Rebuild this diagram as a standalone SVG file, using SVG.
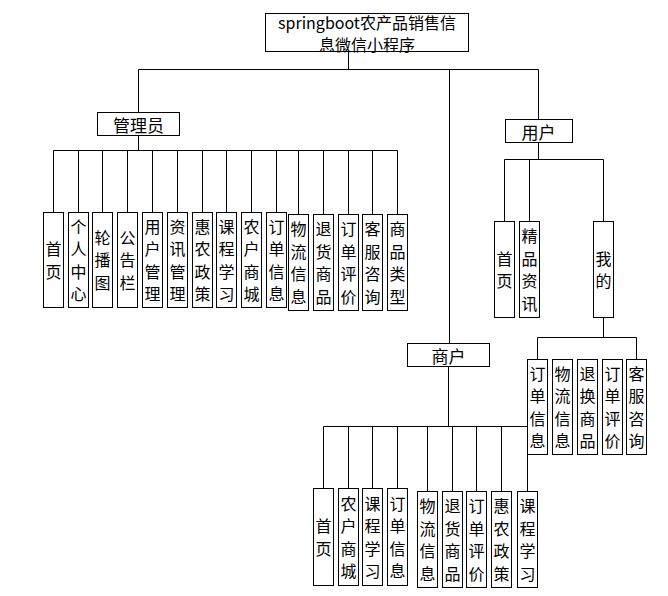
<svg xmlns="http://www.w3.org/2000/svg" width="668" height="596" viewBox="0 0 668 596">
<style>
.b{fill:#fff;stroke:#000;stroke-width:1}
.c{stroke:#000;stroke-width:1;fill:none}
text{font-family:"Noto Sans CJK SC","Noto Sans",sans-serif;fill:#000;text-anchor:middle;dominant-baseline:central}
.v{font-size:16px}
.h{font-size:17px}
</style>
<rect width="668" height="596" fill="#fff"/>
<g id="connectors" class="c">
<path d="M348.5 51V69.5M138.5 69.5H538.5M138.5 69.5V112M449.5 69.5V343M538.5 69.5V119"/>
<path d="M138.5 135V150.5M53.5 150.5H397.5"/>
<path d="M53.5 150.5V212M78.5 150.5V212M102.5 150.5V212M127.5 150.5V212M152.5 150.5V212M177.5 150.5V212M202.5 150.5V212M226.5 150.5V212M251.5 150.5V212M276.5 150.5V212M298.5 150.5V214M323.5 150.5V214M348.5 150.5V214M372.5 150.5V214M397.5 150.5V214"/>
<path d="M538.5 143V159.5M504.5 159.5H603.5M504.5 159.5V221M529.5 159.5V221M603.5 159.5V221"/>
<path d="M603.5 317V337.5M537.5 337.5H636.5M537.5 337.5V359M636.5 337.5V359"/>
<path d="M448.5 366V426.5M323.5 426.5H527.5M323.5 426.5V488M348.5 426.5V488M372.5 426.5V488M397.5 426.5V488M427.5 426.5V491M452.5 426.5V491M476.5 426.5V491M501.5 426.5V491M527.5 426.5V491"/>
</g>
<g id="root"><rect class="b" x="265.5" y="13.5" width="203" height="38"/><text class="v" x="367" y="22">springboot农产品销售信</text><text class="v" x="367" y="44">息微信小程序</text></g>
<g id="admin"><rect class="b" x="97.5" y="112.5" width="82" height="23"/><text class="h" x="138.5" y="124">管理员</text></g>
<g id="user"><rect class="b" x="505.5" y="119.5" width="67" height="23"/><text class="h" x="538.5" y="131">用户</text></g>
<g id="merchant"><rect class="b" x="407.5" y="343.5" width="82" height="23"/><text class="h" x="448.5" y="355">商户</text></g>

<g id="a1"><rect class="b" x="43.5" y="212.5" width="20" height="95"/><text class="v"><tspan x="53.5" y="248">首</tspan><tspan x="53.5" y="271">页</tspan></text></g>
<g id="a2"><rect class="b" x="68.5" y="212.5" width="20" height="95"/><text class="v"><tspan x="78.5" y="226">个</tspan><tspan x="78.5" y="248">人</tspan><tspan x="78.5" y="271">中</tspan><tspan x="78.5" y="293">心</tspan></text></g>
<g id="a3"><rect class="b" x="92.5" y="212.5" width="20" height="95"/><text class="v"><tspan x="102.5" y="237">轮</tspan><tspan x="102.5" y="259">播</tspan><tspan x="102.5" y="282">图</tspan></text></g>
<g id="a4"><rect class="b" x="117.5" y="212.5" width="20" height="95"/><text class="v"><tspan x="127.5" y="237">公</tspan><tspan x="127.5" y="259">告</tspan><tspan x="127.5" y="282">栏</tspan></text></g>
<g id="a5"><rect class="b" x="142.5" y="212.5" width="20" height="95"/><text class="v"><tspan x="152.5" y="226">用</tspan><tspan x="152.5" y="248">户</tspan><tspan x="152.5" y="271">管</tspan><tspan x="152.5" y="293">理</tspan></text></g>
<g id="a6"><rect class="b" x="167.5" y="212.5" width="20" height="95"/><text class="v"><tspan x="177.5" y="226">资</tspan><tspan x="177.5" y="248">讯</tspan><tspan x="177.5" y="271">管</tspan><tspan x="177.5" y="293">理</tspan></text></g>
<g id="a7"><rect class="b" x="192.5" y="212.5" width="20" height="95"/><text class="v"><tspan x="202.5" y="226">惠</tspan><tspan x="202.5" y="248">农</tspan><tspan x="202.5" y="271">政</tspan><tspan x="202.5" y="293">策</tspan></text></g>
<g id="a8"><rect class="b" x="216.5" y="212.5" width="20" height="95"/><text class="v"><tspan x="226.5" y="226">课</tspan><tspan x="226.5" y="248">程</tspan><tspan x="226.5" y="271">学</tspan><tspan x="226.5" y="293">习</tspan></text></g>
<g id="a9"><rect class="b" x="241.5" y="212.5" width="20" height="95"/><text class="v"><tspan x="251.5" y="226">农</tspan><tspan x="251.5" y="248">户</tspan><tspan x="251.5" y="271">商</tspan><tspan x="251.5" y="293">城</tspan></text></g>
<g id="a10"><rect class="b" x="266.5" y="212.5" width="20" height="95"/><text class="v"><tspan x="276.5" y="226">订</tspan><tspan x="276.5" y="248">单</tspan><tspan x="276.5" y="271">信</tspan><tspan x="276.5" y="293">息</tspan></text></g>
<g id="a11"><rect class="b" x="288.5" y="214.5" width="20" height="96"/><text class="v"><tspan x="298.5" y="228">物</tspan><tspan x="298.5" y="251">流</tspan><tspan x="298.5" y="273">信</tspan><tspan x="298.5" y="296">息</tspan></text></g>
<g id="a12"><rect class="b" x="313.5" y="214.5" width="20" height="96"/><text class="v"><tspan x="323.5" y="228">退</tspan><tspan x="323.5" y="251">货</tspan><tspan x="323.5" y="273">商</tspan><tspan x="323.5" y="296">品</tspan></text></g>
<g id="a13"><rect class="b" x="338.5" y="214.5" width="20" height="96"/><text class="v"><tspan x="348.5" y="228">订</tspan><tspan x="348.5" y="251">单</tspan><tspan x="348.5" y="273">评</tspan><tspan x="348.5" y="296">价</tspan></text></g>
<g id="a14"><rect class="b" x="362.5" y="214.5" width="20" height="96"/><text class="v"><tspan x="372.5" y="228">客</tspan><tspan x="372.5" y="251">服</tspan><tspan x="372.5" y="273">咨</tspan><tspan x="372.5" y="296">询</tspan></text></g>
<g id="a15"><rect class="b" x="387.5" y="214.5" width="20" height="96"/><text class="v"><tspan x="397.5" y="228">商</tspan><tspan x="397.5" y="251">品</tspan><tspan x="397.5" y="273">类</tspan><tspan x="397.5" y="296">型</tspan></text></g>

<g id="u1"><rect class="b" x="494.5" y="221.5" width="20" height="96"/><text class="v"><tspan x="504.5" y="258">首</tspan><tspan x="504.5" y="280">页</tspan></text></g>
<g id="u2"><rect class="b" x="519.5" y="221.5" width="20" height="96"/><text class="v"><tspan x="529.5" y="235">精</tspan><tspan x="529.5" y="258">品</tspan><tspan x="529.5" y="280">资</tspan><tspan x="529.5" y="303">讯</tspan></text></g>
<g id="u3"><rect class="b" x="593.5" y="221.5" width="20" height="96"/><text class="v"><tspan x="603.5" y="258">我</tspan><tspan x="603.5" y="280">的</tspan></text></g>

<g id="m1"><rect class="b" x="527.5" y="359.5" width="20" height="95"/><text class="v"><tspan x="537.5" y="373">订</tspan><tspan x="537.5" y="395">单</tspan><tspan x="537.5" y="418">信</tspan><tspan x="537.5" y="440">息</tspan></text></g>
<g id="m2"><rect class="b" x="552.5" y="359.5" width="20" height="95"/><text class="v"><tspan x="562.5" y="373">物</tspan><tspan x="562.5" y="395">流</tspan><tspan x="562.5" y="418">信</tspan><tspan x="562.5" y="440">息</tspan></text></g>
<g id="m3"><rect class="b" x="577.5" y="359.5" width="20" height="95"/><text class="v"><tspan x="587.5" y="373">退</tspan><tspan x="587.5" y="395">换</tspan><tspan x="587.5" y="418">商</tspan><tspan x="587.5" y="440">品</tspan></text></g>
<g id="m4"><rect class="b" x="602.5" y="359.5" width="20" height="95"/><text class="v"><tspan x="612.5" y="373">订</tspan><tspan x="612.5" y="395">单</tspan><tspan x="612.5" y="418">评</tspan><tspan x="612.5" y="440">价</tspan></text></g>
<g id="m5"><rect class="b" x="626.5" y="359.5" width="20" height="95"/><text class="v"><tspan x="636.5" y="373">客</tspan><tspan x="636.5" y="395">服</tspan><tspan x="636.5" y="418">咨</tspan><tspan x="636.5" y="440">询</tspan></text></g>

<g id="s1"><rect class="b" x="313.5" y="488.5" width="20" height="97"/><text class="v"><tspan x="323.5" y="525">首</tspan><tspan x="323.5" y="548">页</tspan></text></g>
<g id="s2"><rect class="b" x="338.5" y="488.5" width="20" height="97"/><text class="v"><tspan x="348.5" y="503">农</tspan><tspan x="348.5" y="525">户</tspan><tspan x="348.5" y="548">商</tspan><tspan x="348.5" y="570">城</tspan></text></g>
<g id="s3"><rect class="b" x="362.5" y="488.5" width="20" height="97"/><text class="v"><tspan x="372.5" y="503">课</tspan><tspan x="372.5" y="525">程</tspan><tspan x="372.5" y="548">学</tspan><tspan x="372.5" y="570">习</tspan></text></g>
<g id="s4"><rect class="b" x="387.5" y="488.5" width="20" height="97"/><text class="v"><tspan x="397.5" y="503">订</tspan><tspan x="397.5" y="525">单</tspan><tspan x="397.5" y="548">信</tspan><tspan x="397.5" y="570">息</tspan></text></g>
<g id="s5"><rect class="b" x="417.5" y="491.5" width="20" height="96"/><text class="v"><tspan x="427.5" y="505">物</tspan><tspan x="427.5" y="528">流</tspan><tspan x="427.5" y="550">信</tspan><tspan x="427.5" y="573">息</tspan></text></g>
<g id="s6"><rect class="b" x="442.5" y="491.5" width="20" height="96"/><text class="v"><tspan x="452.5" y="505">退</tspan><tspan x="452.5" y="528">货</tspan><tspan x="452.5" y="550">商</tspan><tspan x="452.5" y="573">品</tspan></text></g>
<g id="s7"><rect class="b" x="466.5" y="491.5" width="20" height="96"/><text class="v"><tspan x="476.5" y="505">订</tspan><tspan x="476.5" y="528">单</tspan><tspan x="476.5" y="550">评</tspan><tspan x="476.5" y="573">价</tspan></text></g>
<g id="s8"><rect class="b" x="491.5" y="491.5" width="20" height="96"/><text class="v"><tspan x="501.5" y="505">惠</tspan><tspan x="501.5" y="528">农</tspan><tspan x="501.5" y="550">政</tspan><tspan x="501.5" y="573">策</tspan></text></g>
<g id="s9"><rect class="b" x="517.5" y="491.5" width="20" height="96"/><text class="v"><tspan x="527.5" y="505">课</tspan><tspan x="527.5" y="528">程</tspan><tspan x="527.5" y="550">学</tspan><tspan x="527.5" y="573">习</tspan></text></g>
</svg>
